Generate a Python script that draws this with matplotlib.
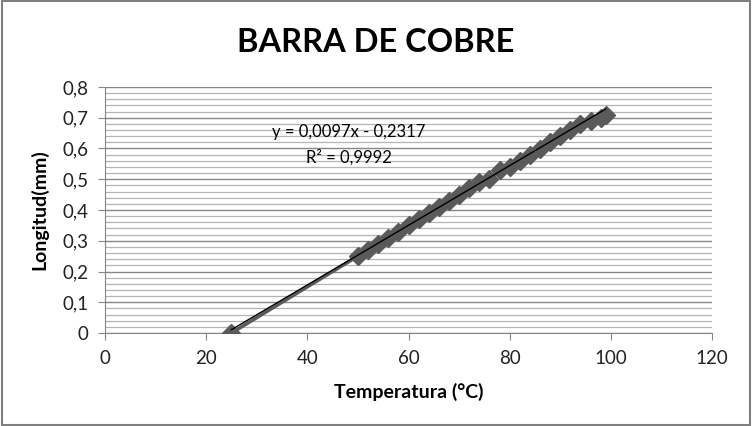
import matplotlib
matplotlib.use("Agg")
import matplotlib.pyplot as plt
import numpy as np
from matplotlib.ticker import MultipleLocator, FuncFormatter
from matplotlib.patches import Rectangle

temperatura = [25, 50, 52, 54, 56, 58, 60, 62, 64, 66, 68, 70, 72, 74, 76, 78,
               80, 82, 84, 86, 88, 90, 92, 94, 96, 98, 99]
longitud = [0.0, 0.25, 0.27, 0.29, 0.31, 0.33, 0.35, 0.37, 0.39, 0.41, 0.43, 0.45,
            0.47, 0.49, 0.50, 0.53, 0.54, 0.56, 0.58, 0.60, 0.62, 0.64, 0.66,
            0.68, 0.69, 0.70, 0.71]
pendiente = 0.0097
intercepto = -0.2317
r2 = 0.9992

title = "BARRA DE COBRE"
xlabel = "Temperatura (°C)"
ylabel = "Longitud(mm)"

plt.rcParams['font.family'] = ['Lato', 'DejaVu Sans']

fig = plt.figure(figsize=(7.52, 4.26), dpi=100)
fig.patch.set_facecolor('white')
fig.patches.append(Rectangle((0.003, 0.003), 0.994, 0.994, transform=fig.transFigure,
                             fill=False, edgecolor='#7f7f7f', linewidth=1.5))

ax = fig.add_axes([105/752, 93/426, 607/752, 246/426])
ax.set_xlim(0, 120)
ax.set_ylim(0, 0.8)

ax.yaxis.set_major_locator(MultipleLocator(0.1))
ax.yaxis.set_minor_locator(MultipleLocator(0.02))
ax.xaxis.set_major_locator(MultipleLocator(20))
ax.grid(True, axis='y', which='minor', color='#b5b5b5', linewidth=0.9)
ax.grid(True, axis='y', which='major', color='#868686', linewidth=1.0)
ax.set_axisbelow(True)

ax.plot(temperatura, longitud, color='#5a5a5a', linewidth=2.5, marker='D',
        markersize=9, markerfacecolor='#5a5a5a', markeredgecolor='#5a5a5a', zorder=3)
xs = np.array([min(temperatura), max(temperatura)])
ax.plot(xs, pendiente * xs + intercepto, color='black', linewidth=1.0, zorder=4)

fmt = FuncFormatter(lambda v, p: ('%g' % round(v, 2)).replace('.', ','))
ax.yaxis.set_major_formatter(fmt)
ax.xaxis.set_major_formatter(fmt)

for s in ['top', 'right']:
    ax.spines[s].set_visible(False)
for s in ['left', 'bottom']:
    ax.spines[s].set_color('#868686')
ax.tick_params(axis='both', which='major', direction='out', length=5, color='#868686',
               labelsize=13.5, labelcolor='#222222', pad=7)
ax.tick_params(axis='y', which='minor', length=0)

ax.set_xlabel(xlabel, fontsize=14, fontweight='bold', labelpad=12)
ax.set_ylabel(ylabel, fontsize=14, fontweight='bold', labelpad=10)

fig.text(376/752, 1 - 42/426, title, fontsize=23.5, fontweight='bold',
         ha='center', va='center')

eq = "y = 0,0097x - 0,2317"
fig.text(349/752, 1 - 132/426, eq, fontsize=12, ha='center', va='center')
fig.text(349/752, 1 - 157/426, "R² = 0,9992", fontsize=12, ha='center', va='center')

fig.savefig("out.png", dpi=100)
